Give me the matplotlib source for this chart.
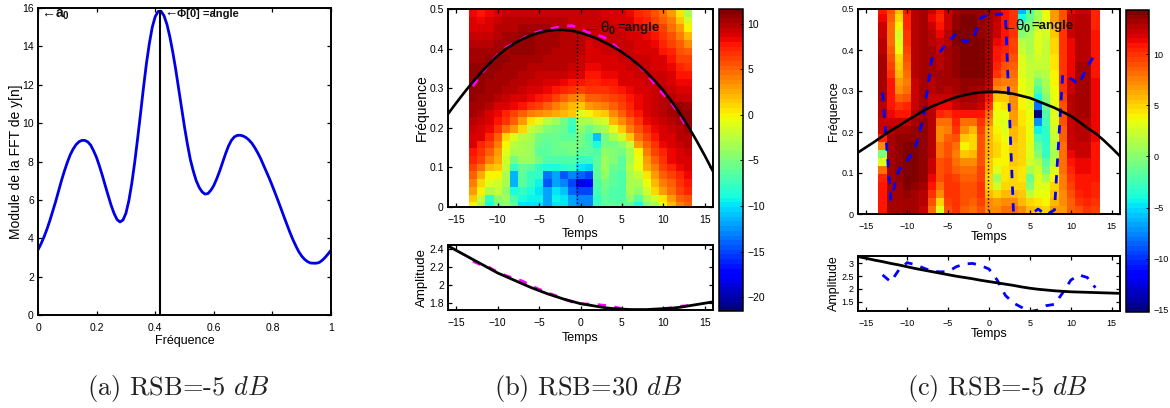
import matplotlib
matplotlib.use("Agg")
import matplotlib.pyplot as plt
import numpy as np

plt.rcParams['font.family'] = ['Liberation Sans', 'DejaVu Sans']
plt.rcParams['mathtext.fontset'] = 'custom'
plt.rcParams['mathtext.rm'] = 'Liberation Sans'
plt.rcParams['mathtext.bf'] = 'Liberation Sans:bold'
plt.rcParams['mathtext.it'] = 'Liberation Sans:italic'

W, H = 1170, 408

# panel (a), one value per 0.01 of frequency
fft_a = [3.4, 3.7, 4.05, 4.45, 4.9, 5.4, 5.9, 6.45, 7, 7.5,
         7.95, 8.35, 8.65, 8.88, 9.03, 9.1, 9.1, 9.02, 8.85, 8.55,
         8.2, 7.75, 7.25, 6.72, 6.2, 5.7, 5.28, 4.97, 4.85, 4.95,
         5.3, 5.95, 6.85, 7.95, 9.2, 10.5, 11.85, 13.1, 14.15, 15,
         15.55, 15.82, 15.83, 15.6, 15.15, 14.5, 13.7, 12.8, 11.8, 10.8,
         9.8, 8.9, 8.1, 7.5, 7, 6.65, 6.42, 6.3, 6.33, 6.5,
         6.75, 7.1, 7.5, 7.95, 8.4, 8.8, 9.1, 9.28, 9.36, 9.37,
         9.33, 9.25, 9.12, 8.95, 8.72, 8.45, 8.15, 7.8, 7.45, 7.1,
         6.72, 6.33, 5.93, 5.52, 5.1, 4.7, 4.3, 3.93, 3.6, 3.3,
         3.07, 2.9, 2.78, 2.71, 2.7, 2.7, 2.74, 2.85, 3, 3.18, 3.38]
freq_a = np.arange(len(fft_a)) / 100
peak_a = [0.417, 15.85]

# time axes
t_long = list(range(-16, 17))
t_short = list(range(-13, 14))

# panel (b) curves
freq_true_b = [.235, .263, .29, .316, .34, .362, .382, .399, .413, .424, .433, .44, .445, .447, .447, .445, .44,
               .433, .425, .415, .404, .391, .376, .359, .34, .318, .294, .267, .237, .204, .168, .13, .09]
freq_est_b = [.305, .336, .362, .384, .402, .415, .425, .437, .443, .448, .453, .457, .458, .45, .44, .435, .427,
              .41, .392, .375, .358, .335, .31, .285, .262, .232, .195]
amp_true_b = [2.43, 2.38, 2.33, 2.28, 2.23, 2.18, 2.13, 2.09, 2.05, 2.01, 1.97, 1.935, 1.90, 1.87, 1.84, 1.815, 1.79,
              1.775, 1.76, 1.745, 1.735, 1.73, 1.725, 1.725, 1.725, 1.73, 1.735, 1.74, 1.75, 1.765, 1.78, 1.795, 1.81]
amp_est_b = [2.26, 2.22, 2.19, 2.14, 2.10, 2.07, 2.04, 1.99, 1.95, 1.91, 1.88, 1.84, 1.81, 1.79, 1.785, 1.78, 1.77,
             1.755, 1.735, 1.72, 1.715, 1.715, 1.72, 1.735, 1.745, 1.76, 1.77]

# panel (c) curves
freq_true_c = [.15, .163, .176, .19, .203, .215, .228, .24, .252, .262, .27, .278, .285, .29, .294, .297, .298,
               .298, .296, .293, .288, .283, .275, .267, .259, .249, .239, .225, .21, .197, .18, .161, .141]
freq_est_c = [.296, .035, .108, .13, .16, .235, .378, .395, .42, .44, .42, .425, .478, .488, .487, .488, 0,
              -.002, -.002, .012, -.002, .01, .34, .33, .316, .36, .39]
amp_true_c = [3.27, 3.2, 3.13, 3.07, 3.0, 2.94, 2.87, 2.8, 2.74, 2.68, 2.62, 2.56, 2.5, 2.45, 2.4, 2.34, 2.29,
              2.24, 2.19, 2.14, 2.08, 2.03, 1.99, 1.96, 1.93, 1.91, 1.89, 1.88, 1.87, 1.86, 1.85, 1.84, 1.83]
amp_est_c = [2.55, 2.28, 2.75, 3.03, 2.95, 2.82, 2.7, 2.67, 2.68, 2.87, 2.98, 3.0, 2.92, 2.78, 2.35, 1.75, 1.45,
             1.28, 1.12, 1.18, 1.35, 1.4, 1.85, 2.35, 2.55, 2.45, 2.05]

# panel (b) map, rows from high to low frequency, columns t=-13..13
heat_b = [
    [8, 7.5, 8, 9, 9.5, 9.5, 9.5, 9.5, 9.5, 9.5, 9.5, 9.5, 9.5, 9.5, 9.5, 9.5, 9, 9, 8.5, 8, 7, 6.5, 5.5, 4.5, 3, 0.5, -3],
    [8.5, 8, 8.5, 9.5, 10, 10, 10, 10, 10, 10, 10, 10, 9.5, 9.5, 9.5, 9.5, 9.5, 9, 9, 8.5, 7.5, 7, 6, 5, 4, 1.5, -1.5],
    [9, 9, 9, 10, 10, 10, 10.5, 10.5, 10.5, 10.5, 10, 10, 10, 9.5, 9.5, 9.5, 9.5, 9.5, 9, 9, 8, 7.5, 7, 6, 4.5, 3, 0],
    [9.5, 9.5, 9.5, 10, 10.5, 10.5, 11, 11, 10.5, 10.5, 10.5, 10, 10, 10, 9.5, 9.5, 9.5, 9.5, 9.5, 9, 8.5, 8, 7.5, 6.5, 5.5, 4, 2],
    [10, 10, 10, 10.5, 10.5, 11, 11, 11, 10.5, 10.5, 10.5, 10, 10, 10, 9, 9.5, 9.5, 9.5, 9.5, 9.5, 9, 8.5, 8, 7, 6, 5, 3.5],
    [10.5, 10.5, 10.5, 10.5, 10.5, 11, 11, 11, 10.5, 10.5, 10, 10, 10, 10, 9, 9, 9.5, 9.5, 9.5, 9.5, 9, 9, 8.5, 7.5, 7, 5.5, 5],
    [10.5, 10.5, 11, 11, 11, 10.5, 10.5, 10.5, 10.5, 10, 10, 10, 10, 9.5, 8.5, 8.5, 9, 9, 9.5, 9.5, 9.5, 9.5, 9, 8.5, 7.5, 6, 6],
    [11, 11, 11, 11, 10.5, 10.5, 10.5, 10, 10, 10, 10, 10, 9.5, 9.5, 8, 8, 8.5, 8.5, 9, 9.5, 9.5, 9.5, 9, 9, 8, 7, 6.5],
    [11, 11, 11, 10.5, 10.5, 10.5, 10, 10, 9.5, 9.5, 9.5, 9.5, 9, 9, 7.5, 7.5, 8, 8, 9, 9, 9.5, 9.5, 9.5, 9.5, 8.5, 7.5, 7.5],
    [11, 11, 10.5, 10.5, 10.5, 10, 10, 9.5, 9.5, 9, 8.5, 8, 7.5, 7.5, 7, 7, 7.5, 7.5, 8.5, 8.5, 9, 9.5, 9.5, 9.5, 9, 8, 8],
    [11, 11, 10.5, 10.5, 10, 10, 9.5, 9, 8.5, 8, 7.5, 7, 6.5, 6, 6.5, 6.5, 6.5, 7, 7.5, 8, 8.5, 9, 9.5, 10, 9.5, 8.5, 8.5],
    [11, 10.5, 10.5, 10, 9.5, 9, 8.5, 8, 7.5, 7, 6, 5, 4, 3.5, 5, 5, 5.5, 6, 6.5, 7.5, 8, 8.5, 9.5, 10, 10, 9.5, 9.5],
    [10.5, 10.5, 10, 9, 8.5, 8, 7.5, 6.5, 6, 5, 4, 3, 2, 1.5, 3, 3.5, 4, 5, 6, 7, 8, 9, 9.5, 10, 10.5, 11, 10.5],
    [10.5, 10, 9, 8, 7, 6, 5, 4, 3.5, 3, 2.5, 2, 1.5, -1, 0, 1, 1.5, 3.5, 5, 6.5, 7.5, 8.5, 9.5, 10, 10.5, 11, 11],
    [10, 9.5, 8.5, 7.5, 6.5, 5, 3, 0.5, -1, -2.5, -3.5, -5, -7.5, -3, -3, -2, -1.5, 2, 3.5, 5, 6.5, 8, 9, 9.5, 10, 10.5, 11],
    [9.5, 9, 8, 6.5, 4.5, 3, 1, -2, -3, -4.5, -5, -5.5, -8, -4, -5.5, -4, -3, -1, 1.5, 4, 5.5, 7, 8, 9, 9.5, 10, 10.5],
    [9, 8.5, 7, 5, 1, -1, -2.5, -3, -5, -5.5, -5.5, -6, -6, -5, -7, -11, -5, -3, -1.5, 1.5, 4.5, 6, 7.5, 8.5, 9, 10, 10],
    [8.5, 7, 6, 4, 0, -2.5, -3, -3.5, -5.5, -6, -5.5, -5, -5, -5, -6.5, -9, -5, -5, -4, -2, 3, 5, 6.5, 8, 9, 9.5, 10],
    [7.5, 6.5, 5, 3, -1, -3, -3, -3.5, -6, -6, -5.5, -5.5, -5, -6, -6.5, -7, -4, -4.5, -5, -3, 0, 4, 6, 7, 8, 9, 9.5],
    [7, 6, 4, 2.5, -1.5, -5, -3.5, -3.5, -5, -7, -7, -7, -7, -8, -8, -6.5, -3.5, -4.5, -6, -3, -0.5, 3, 5, 6.5, 8, 9, 9],
    [6, 4.5, 2, 1.5, -2, -8, -5.5, -6, -8, -9, -9, -8.5, -8, -10, -10.5, -6, -3.5, -5.5, -6.5, -2.5, -0.5, 2.5, 4, 6, 7, 8, 8.5],
    [5, 2.5, 0, 0, -3, -11.5, -6.5, -8, -8, -13.5, -12, -14.5, -13, -14, -15, -6.5, -4, -6, -7, -3, -2, 0.5, 3, 5, 6, 7, 8],
    [4, 1, -1, -1.5, -3, -11.5, -6, -8, -9.5, -14.5, -12, -13, -15, -18, -17, -7, -5, -6.5, -7, -3, -3, -0.5, 2, 4, 5, 6.5, 7.5],
    [3, 0, -3, -2, -4, -9, -8, -9, -10, -12, -10, -11, -14, -15, -15, -7.5, -5.5, -7, -7, -3, -4, -1.5, 1, 3, 4.5, 6, 7],
    [1.5, -2, -8, -4, -3.5, -7, -9, -9.5, -9.5, -12, -9.5, -10, -12, -13, -13, -8, -6, -7, -7, -4, -6, -3, -1.5, 0.5, 3, 5, 5.5],
    [0, -3, -9, -5, -4, -6, -10, -10, -10, -12, -10, -10, -12, -13, -13, -8, -6, -6, -6.5, -6, -9, -4, -3, -0.5, 2, 4, 5],
]

# panel (c) map, one list per column t=-13..13, each from high to low frequency
heat_c_cols = [
    [11, 11.5, 12, 12, 12.5, 12.5, 13, 13, 13, 13, 13, 13, 12.5, 12.5, 12, 12, 10.5, 7, 0, 3, 8, 10.5, 11, 11, 11, 11],
    [9, 8.5, 8, 8, 8, 8.5, 9, 9.5, 10, 11, 11, 11, 11, 11.5, 12, 12.5, 13, 13, 13, 13, 13, 13, 13, 13, 13, 13],
    [6, 5, 4, 2.5, 3, 3.5, 5, 5.5, 6, 6.5, 7, 8.5, 10, 11, 12, 13, 13.5, 13.5, 13.5, 13.5, 13.5, 13.5, 13, 13, 13, 13],
    [11, 10.5, 10.5, 10, 10, 9.5, 9, 8.5, 8, 7.5, 8, 9, 10.5, 11, 12, 13, 13.5, 14, 14, 14, 14, 14, 14, 13.5, 13, 13],
    [12.5, 12.5, 12.5, 12.5, 12.5, 12.5, 12.5, 12.5, 12.5, 12, 12, 12, 12, 12.5, 13, 13.5, 13.5, 14, 14, 14, 14, 14, 13.5, 13, 13, 13],
    [13, 13, 13, 13, 13, 13, 13, 13, 13, 13, 13, 13, 13, 13, 13.5, 13.5, 13.5, 13.5, 13.5, 13.5, 13.5, 13.5, 13, 12.5, 12.5, 12],
    [12, 11.5, 12, 12.5, 12.5, 13, 13, 13, 13, 12.5, 12.5, 12, 12, 12.5, 12.5, 12.5, 12.5, 12.5, 12.5, 12, 12, 11.5, 11, 10, 9, 8],
    [11, 10.5, 11, 11.5, 12, 12, 12.5, 12.5, 13, 13, 13, 12, 11.5, 10.5, 8, 7, 7, 8, 8, 9, 9, 9, 8, 7, 5, 3],
    [12, 12, 12, 12.5, 12.5, 13, 13, 13, 13, 13, 12.5, 12, 11.5, 10, 8, 7.5, 8.5, 9, 9, 9.5, 9.5, 10, 10, 10, 9.5, 9],
    [13, 13.5, 13.5, 14, 14, 13.5, 13.5, 13.5, 13.5, 13, 13, 12.5, 12, 11, 10.5, 10, 9, 8, 7.5, 8, 8.5, 9.5, 10, 10, 10, 10],
    [13.5, 14, 14, 14, 14, 14, 14, 14, 14, 13.5, 13.5, 13, 12.5, 11, 8, 7, 5.5, 4, 5.5, 7, 8, 8.5, 9, 9, 9, 8.5],
    [13.5, 14, 14, 14, 14, 14, 14, 14, 14, 13.5, 13, 13, 12.5, 11, 8, 6, 5, 5, 6, 7, 8, 8.5, 9, 9, 8.5, 8],
    [13.5, 13.5, 13.5, 13.5, 14, 14, 14, 14, 14, 13.5, 13, 12.5, 12, 11, 10, 9.5, 9, 9, 9, 9, 9.5, 9.5, 10, 10, 9.5, 9],
    [13, 13, 13, 13, 13, 13, 13, 13, 13, 12.5, 12, 11, 10, 8, 7, 6, 6, 6, 6, 5.5, 5.5, 5, 5, 6, 7, 7],
    [12.5, 12.5, 12, 12, 11.5, 11, 11, 10.5, 10, 8, 7, 5.5, 4, 3.5, 3.5, 4, 4.5, 5, 5, 4, 3, 0.5, 2.5, 5, 6.5, 7],
    [11, 11, 11, 11, 11, 10.5, 10, 9, 8.5, 7.5, 6.5, 5.5, 4.5, 3.5, 3, 3, 3.5, 4, 4, 4, 4.5, 4.5, 5, 6, 7, 8],
    [10, 10, 10, 10, 9.5, 9.5, 9, 8.5, 8, 7.5, 7, 7, 7, 6.5, 6.5, 6, 6, 5.5, 5.5, 5.5, 5, 5, 5, 6, 7, 8],
    [-6, -4, -1.5, 0, 1.5, 2, 3, 3, 3, 3.5, 3.5, 4, 4, 4.5, 4.5, 5, 5, 5, 5, 5, 4.5, 4.5, 5, 5.5, 6, 7],
    [-2, -1, 0, 0.5, 1, 1, 1.5, 2, 2, 2.5, 2.5, 3, 3, 3.5, 3.5, 3.5, 3.5, 3, 3, 2.5, 1, -1, 0, 2, 5, 6],
    [1, 1, 2, 3, 3, 3, 2.5, 2, 1, -0.5, -2, -4, -8, -15, -7, -4.5, -2.5, -1, 0, 1.5, 2.5, 3, 3, 3.5, 4.5, 5.5],
    [4, 3.5, 3, 2.5, 2, 2, 2, 2, 1.5, 1, 0.5, 0, -1, -2, -2.5, -3, -3.5, -3, -3, -1.5, -0.5, 1, 3, 3.5, 4, 5],
    [6.5, 6.5, 6, 5.5, 5, 5, 4.5, 4.5, 4, 4, 3.5, 3.5, 3, 3, 3, 2.5, 2, 1.5, 1, 1.5, 3, 4, 5, 5.5, 6, 6.5],
    [9, 9, 9.5, 10, 10, 10, 10, 10, 10, 10, 10, 9.5, 9, 9, 9, 8.5, 8.5, 8, 8, 8, 8, 7.5, 7.5, 7, 7, 6.5],
    [11.5, 12, 12, 12, 11.5, 11.5, 11.5, 11.5, 11.5, 12, 12, 12.5, 12.5, 12.5, 12, 12, 12, 12, 11.5, 11, 10.5, 10, 9.5, 9, 8.5, 8.5],
    [12, 12.5, 12.5, 12.5, 12.5, 12.5, 12.5, 13, 13, 13, 13, 13, 13, 13, 12.5, 12.5, 12.5, 12, 12, 11.5, 11.5, 11, 11, 10.5, 10, 9],
    [12, 12.5, 12.5, 12.5, 12.5, 12.5, 12.5, 13, 13, 13, 13, 13, 13, 13, 12.5, 12.5, 12.5, 12, 12, 11.5, 11.5, 11, 11, 11, 10.5, 10],
    [10.5, 10.5, 10.5, 11, 11, 11, 11, 11, 11, 11.5, 11.5, 11.5, 11.5, 11.5, 11.5, 11.5, 11.5, 11, 11, 11, 11, 11, 10.5, 10.5, 10, 9.5],
]


def add_ax(fig, left, top, right, bottom):
    return fig.add_axes([left / W, 1 - bottom / H, (right - left) / W, (bottom - top) / H])


def style_ax(ax, size=7.5, lw=1.4):
    ax.tick_params(direction='in', top=True, right=True, length=3, width=0.9, labelsize=size, pad=3)
    ax.tick_params(axis='x', pad=6)
    for s in ax.spines.values():
        s.set_linewidth(lw)


def draw_map(fig, box, cbox, data, y_edges, vmin, vmax, cticks, size, lab_size, lab_pad, x_pad):
    ax = add_ax(fig, *box)
    x_edges = np.arange(-13.5, 14.5, 1)
    cmap = plt.get_cmap('jet', 64)
    mesh = ax.pcolormesh(x_edges, y_edges, np.flipud(np.array(data)), cmap=cmap, vmin=vmin, vmax=vmax)
    ax.set_xlim(-16, 16)
    ax.set_ylim(0, 0.5)
    ax.set_xticks([-15, -10, -5, 0, 5, 10, 15])
    ax.set_yticks([0, 0.1, 0.2, 0.3, 0.4, 0.5])
    ax.set_yticklabels(['0', '0.1', '0.2', '0.3', '0.4', '0.5'])
    ax.set_xlabel('Temps', fontsize=9, labelpad=x_pad)
    ax.set_ylabel('Fréquence', fontsize=lab_size, labelpad=lab_pad)
    style_ax(ax, size)
    cax = add_ax(fig, *cbox)
    cb = fig.colorbar(mesh, cax=cax)
    cb.set_ticks(cticks)
    cax.tick_params(direction='in', length=2.5, width=0.7, labelsize=size, pad=3)
    cb.outline.set_linewidth(1.1)
    return ax


def draw_amp(fig, box, true_vals, est_vals, color, ylim, yticks, ylabels, size, lab_size, lab_pad, x_pad):
    ax = add_ax(fig, *box)
    ax.plot(t_short, est_vals, color=color, lw=2, dashes=(3, 3))
    ax.plot(t_long, true_vals, color='black', lw=2)
    ax.set_xlim(-16, 16)
    ax.set_ylim(*ylim)
    ax.set_xticks([-15, -10, -5, 0, 5, 10, 15])
    ax.set_yticks(yticks)
    ax.set_yticklabels(ylabels)
    ax.set_xlabel('Temps', fontsize=9, labelpad=x_pad)
    ax.set_ylabel('Amplitude', fontsize=lab_size, labelpad=lab_pad)
    style_ax(ax, size)
    return ax


def angle_label(ax, x, y, off_theta, off_text):
    ax.text(x, y, '←', fontsize=11, va='center', ha='left', color='#111111')
    ax.text(x + off_theta, y, r'θ$_{\mathbf{0}}$', fontsize=11, va='center', ha='left', color='#111111')
    ax.text(x + off_text, y, '=angle', fontsize=9.5, fontweight='bold', va='center', ha='left', color='#111111')


fig = plt.figure(figsize=(W / 100, H / 100), dpi=100)

# panel (a)
ax_a = add_ax(fig, 38, 8, 331, 315)
ax_a.plot(freq_a, fft_a, color='#0000e6', lw=2)
ax_a.plot([peak_a[0], peak_a[0]], [0, peak_a[1]], color='black', lw=1.5)
ax_a.set_xlim(0, 1)
ax_a.set_ylim(0, 16)
ax_a.set_xticks([0, 0.2, 0.4, 0.6, 0.8, 1])
ax_a.set_xticklabels(['0', '0.2', '0.4', '0.6', '0.8', '1'])
ax_a.set_yticks(range(0, 17, 2))
ax_a.set_xlabel('Fréquence', fontsize=9, labelpad=1.5)
ax_a.set_ylabel('Module de la FFT de y[n]', fontsize=10, labelpad=-1)
style_ax(ax_a, 7.5)
ax_a.text(0.012, 15.75, '←', fontsize=10, va='center', color='#111111')
ax_a.text(0.058, 15.65, r'$\mathbf{a}_{\mathbf{0}}$', fontsize=10, va='center', color='#111111')
ax_a.text(0.43, 15.7, '←', fontsize=9.5, va='center', color='#111111')
ax_a.text(0.475, 15.7, 'Φ[0] =angle', fontsize=8, fontweight='bold', va='center', color='#111111')

# panel (b)
edges_b = np.linspace(-0.008, 0.5, 27)
ax_b = draw_map(fig, (448, 9, 713, 207), (719, 9, 743, 311), heat_b, edges_b, -21.5, 11.6,
                [-20, -15, -10, -5, 0, 5, 10], 7.5, 10, 0, 2)
ax_b.plot(t_short, freq_est_b, color='#ff00ff', lw=2, dashes=(3, 3))
ax_b.plot(t_long, freq_true_b, color='black', lw=1.9)
ax_b.plot([-0.4, -0.4], [0, 0.44], color='black', lw=1, ls=':')
angle_label(ax_b, 0.3, 0.452, 2.0, 4.2)
draw_amp(fig, (448, 245, 713, 310), amp_true_b, amp_est_b, '#ff00ff', (1.72, 2.44),
         [1.8, 2, 2.2, 2.4], ['1.8', '2', '2.2', '2.4'], 7.5, 9.5, 1, 3)

# panel (c)
edges_c = np.arange(27) * 0.0195
heat_c = np.array(heat_c_cols).T
ax_c = draw_map(fig, (858, 9, 1120, 214), (1126, 10, 1149, 312), heat_c, edges_c, -15.2, 14.3,
                [-15, -10, -5, 0, 5, 10], 6.5, 9, 1, 0)
ax_c.plot(t_short, freq_est_c, color='#0000ff', lw=2, dashes=(3, 3))
ax_c.plot(t_long, freq_true_c, color='black', lw=1.9)
ax_c.plot([-0.15, -0.15], [0, 0.5], color='black', lw=1, ls=':')
angle_label(ax_c, 1.6, 0.458, 1.6, 3.6)
draw_amp(fig, (858, 256, 1120, 311), amp_true_c, amp_est_c, '#0000ff', (1.14, 3.29),
         [1.5, 2, 2.5, 3], ['1.5', '2', '2.5', '3'], 6.5, 9, 1, 0)

# captions
fig.text(178 / W, 1 - 389 / H, '(a) RSB=-5 $dB$', family='cmr10', math_fontfamily='cm', fontsize=19,
         ha='center', va='center', color='#222222')
fig.text(588 / W, 1 - 389 / H, '(b) RSB=30 $dB$', family='cmr10', math_fontfamily='cm', fontsize=19,
         ha='center', va='center', color='#222222')
fig.text(997 / W, 1 - 389 / H, '(c) RSB=-5 $dB$', family='cmr10', math_fontfamily='cm', fontsize=19,
         ha='center', va='center', color='#222222')

fig.savefig('out.png', dpi=100)
plt.close(fig)
